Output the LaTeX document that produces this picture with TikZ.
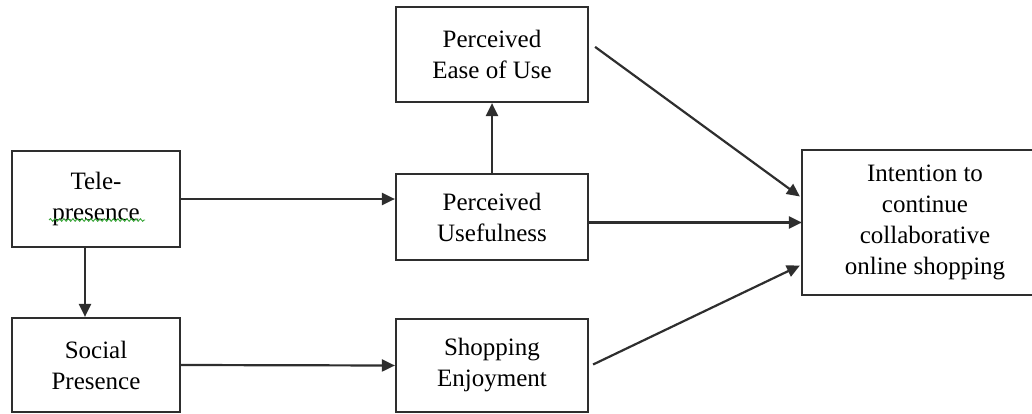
\documentclass[tikz,border=0pt]{standalone}
\usepackage{fontspec}
\setmainfont{Liberation Serif}
\usepackage{xcolor}
\usepackage{tikz}
\usetikzlibrary{arrows.meta, decorations.pathmorphing}
\definecolor{lnclr}{HTML}{2E2E2E}
\definecolor{spellgreen}{HTML}{3AA63A}
\tikzset{
  varbox/.style ={rectangle, draw=lnclr, fill=white, line width=2.2pt, inner sep=0pt,
                  align=center, font=\fontsize{25}{31}\selectfont, text=black},
  sidebox/.style={varbox, minimum width=168pt},
  midbox/.style ={varbox, minimum width=192pt},
  frame/.style  ={draw=lnclr, line width=2.2pt},
  link/.style   ={-{Triangle[length=13pt,width=12pt]}, draw=lnclr, line width=2.2pt},
}

\begin{document}
\begin{tikzpicture}[x=1pt, y=-1pt]
  \useasboundingbox (0,0) rectangle (1032,414);
  \node[sidebox, minimum height=96pt]  (tele)   at (96,199)    {Tele-\\presence};
  \node[sidebox, minimum height=94pt]  (social) at (96,365)    {Social\\Presence};
  \node[midbox,  minimum height=95pt]  (peu)    at (492,54.5)  {Perceived\\Ease of Use};
  \node[midbox,  minimum height=86pt]  (pu)     at (492,217)   {Perceived\\Usefulness};
  \node[midbox,  minimum height=93pt]  (enjoy)  at (492,365.5) {Shopping\\Enjoyment};
  % right box: cropped by the picture's right edge
  \node[varbox, draw=none, minimum width=229pt, minimum height=143pt] (intent) at (917.5,222.5) {};
  \node[varbox, draw=none, fill=none] (intenttxt) at ([xshift=7.5pt]intent.center)
       {Intention to\\continue\\collaborative\\online shopping};
  \draw[frame] (intent.north east) -- (intent.north west) -- (intent.south west) -- (intent.south east);
  % spell-check squiggle under "presence"
  \draw[spellgreen, line width=0.9pt,
        decorate, decoration={snake, amplitude=1.3pt, segment length=4.5pt}]
       ([xshift=-47pt,yshift=-21pt]tele.center) -- ([xshift=49pt,yshift=-21pt]tele.center);
  \draw[link] (tele.east) -- (tele.east -| pu.west);
  \draw[link] ([xshift=-11pt]tele.south) -- ([xshift=-11pt]social.north);
  \draw[link] (social.east) -- (enjoy.west);
  \draw[link] (pu) -- (peu);
  \draw[link] ([xshift=6pt,yshift=-41pt]peu.north east) -- ([xshift=-2pt,yshift=26pt]intent.west);
  \draw[link] (pu.east |- intent.west) -- (intent.west);
  \draw[link] ([xshift=4pt,yshift=1pt]enjoy.east) -- ([xshift=-2pt,yshift=-43pt]intent.west);
\end{tikzpicture}
\end{document}
